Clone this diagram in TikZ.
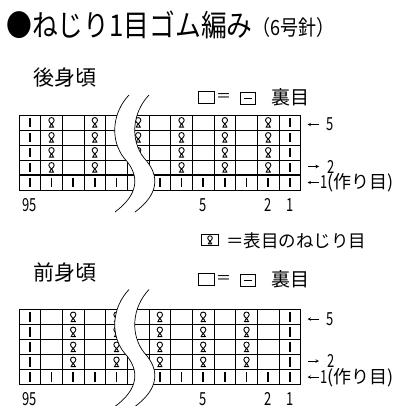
\documentclass[tikz,border=0pt]{standalone}
\usepackage{fontspec}
\setmainfont{Noto Sans CJK JP}
\newfontfamily\titlefont{Noto Sans CJK JP}[FakeStretch=0.86]
\newfontfamily\numfont{Noto Sans CJK JP}[FakeStretch=0.72]
\usetikzlibrary{arrows}

\tikzset{
	knit/.pic={\draw[line width=1.7pt] (0,-4.6)--(0,4.6);},
	twist/.pic={\draw[line width=0.9pt] (-2.6,4.6)--(2.6,4.6)
		(-1.8,4.6) .. controls (-1.8,2) and (2.7,0) .. (2.7,-2.3)
		.. controls (2.7,-5.8) and (-2.7,-5.8) .. (-2.7,-2.3)
		.. controls (-2.7,0) and (1.8,2) .. (1.8,4.6);},
	lbl/.style={inner sep=0pt,anchor=west},
	num/.style={inner sep=0pt,text height=13pt,text depth=0pt,font=\numfont\fontsize{18}{18}\selectfont},
	keybox/.style={draw,line width=0.8pt,inner sep=0pt,minimum width=16.5pt,minimum height=12.5pt},
}

\begin{document}
\begin{tikzpicture}[x=1pt,y=-1pt,>=stealth]
	\useasboundingbox (0,0) rectangle (401,406);

	%title
	\node[lbl] (title) at (6,25) {\titlefont\fontsize{30}{30}\selectfont ●ねじり1目ゴム編み\raisebox{1.5pt}{\fontsize{21}{21}\selectfont （6号針）}};

	%Back: grid and stitches
	\begin{scope}[shift={(19,115)}]
	\foreach \j in {0,...,5}
	\draw[line width=0.8pt] (0,15*\j)--(281.7,15*\j);
	\foreach \c in {0,...,13}
	\draw[line width=0.8pt] (21.67*\c,0)--(21.67*\c,75);
	\draw[line width=1.1pt] (0,60)--(281.7,60);
	\foreach \c in {0,...,12}
	\pic at (21.67*\c+10.83,67.5) {knit};
	\foreach \j in {0,...,3}{
		\pic at (10.83,15*\j+7.5) {knit};
		\pic at (270.87,15*\j+7.5) {knit};
		\foreach \c in {1,3,...,11}
		\pic at (21.67*\c+10.83,15*\j+7.5) {twist};
	}
	\end{scope}

	%Front: grid and stitches
	\begin{scope}[shift={(19,309.5)}]
	\foreach \j in {0,...,5}
	\draw[line width=0.8pt] (0,15*\j)--(281.7,15*\j);
	\foreach \c in {0,...,13}
	\draw[line width=0.8pt] (21.67*\c,0)--(21.67*\c,75);
	\draw[line width=1.1pt] (0,60)--(281.7,60);
	\foreach \c in {0,...,12}
	\pic at (21.67*\c+10.83,67.5) {knit};
	\foreach \j in {0,...,3}{
		\pic at (10.83,15*\j+7.5) {knit};
		\pic at (270.87,15*\j+7.5) {knit};
		\foreach \c in {2,4,...,10}
		\pic at (21.67*\c+10.83,15*\j+7.5) {twist};
	}
	\end{scope}

	%break lines
	\foreach \s in {0,194.5}{
	\begin{scope}[shift={(0,\s)}]
	\fill[white] (129,95) .. controls (112,113) and (110,140) .. (124,158)
		.. controls (141,176) and (138,195) .. (115,212) -- (135,212)
		.. controls (158,195) and (161,176) .. (144,158)
		.. controls (130,140) and (132,113) .. (149,95) -- cycle;
	\foreach \dx in {0,20}
	\draw[line width=0.7pt,xshift=\dx pt] (129,95) .. controls (112,113) and (110,140) .. (124,158)
		.. controls (141,176) and (138,195) .. (115,212);
	\end{scope}
	}

	%Back: labels
	\node[lbl,font=\fontsize{21}{21}\selectfont] (back) at (33,78) {後身頃};
	\node[keybox] (tblank) at (206.5,97.5) {};
	\node[lbl,font=\fontsize{15}{15}\selectfont] (teq) at (216,97.5) {＝};
	\node[keybox,minimum width=15pt] (tpurl) at (248,98.5) {};
	\draw[line width=1.6pt] ([xshift=-3.8pt]tpurl.center)--([xshift=3.8pt]tpurl.center);
	\node[lbl,font=\fontsize{19}{19}\selectfont] (turame) at (271.5,97) {裏目};
	%
	\node[num] (t95) at (29.5,204.5) {95};
	\node[num] (tc5) at (203.2,204.5) {5};
	\node[num] (tc2) at (268.2,204.5) {2};
	\node[num] (tc1) at (289.8,204.5) {1};
	%
	\node[num,anchor=west] (t5) at (326,124.5) {5};
	\coordinate (t5a) at (307.5,124.5);
	\draw[->,line width=0.6pt,shorten <=7.5pt] (t5)--(t5a);
	\node[num,anchor=west] (t2) at (327.5,166.5) {2};
	\coordinate (t2a) at (308,166.5);
	\draw[->,line width=0.6pt,shorten >=8.5pt] (t2a)--(t2);
	\node[lbl,text height=14pt,text depth=2pt,font=\fontsize{18}{18}\selectfont] (t1) at (320,182.5) {{\numfont 1}(作り目)};
	\coordinate (t1a) at (307.5,182.5);
	\draw[->,line width=0.6pt,shorten <=1.5pt] (t1)--(t1a);

	%key
	\node[keybox,minimum height=10.5pt] (kbox) at (210,240) {};
	\pic[scale=0.85] at (kbox) {twist};
	\node[lbl,font=\fontsize{17.5}{17.5}\selectfont] (ktext) at (226,240.5) {＝表目のねじり目};

	%Front: labels
	\node[lbl,font=\fontsize{21}{21}\selectfont] (front) at (33,272.5) {前身頃};
	\node[keybox] (bblank) at (206.5,279.3) {};
	\node[lbl,font=\fontsize{15}{15}\selectfont] (beq) at (216,279.3) {＝};
	\node[keybox,minimum width=15pt] (bpurl) at (248,280.3) {};
	\draw[line width=1.6pt] ([xshift=-3.8pt]bpurl.center)--([xshift=3.8pt]bpurl.center);
	\node[lbl,font=\fontsize{19}{19}\selectfont] (burame) at (271.5,278.8) {裏目};
	%
	\node[num] (b95) at (29.5,399) {95};
	\node[num] (bc5) at (203.2,399) {5};
	\node[num] (bc2) at (268.2,399) {2};
	\node[num] (bc1) at (289.8,399) {1};
	%
	\node[num,anchor=west] (b5) at (326,319) {5};
	\coordinate (b5a) at (307.5,319);
	\draw[->,line width=0.6pt,shorten <=7.5pt] (b5)--(b5a);
	\node[num,anchor=west] (b2) at (327.5,361) {2};
	\coordinate (b2a) at (308,361);
	\draw[->,line width=0.6pt,shorten >=8.5pt] (b2a)--(b2);
	\node[lbl,text height=14pt,text depth=2pt,font=\fontsize{18}{18}\selectfont] (b1) at (320,377) {{\numfont 1}(作り目)};
	\coordinate (b1a) at (307.5,377);
	\draw[->,line width=0.6pt,shorten <=1.5pt] (b1)--(b1a);
\end{tikzpicture}
\end{document}
